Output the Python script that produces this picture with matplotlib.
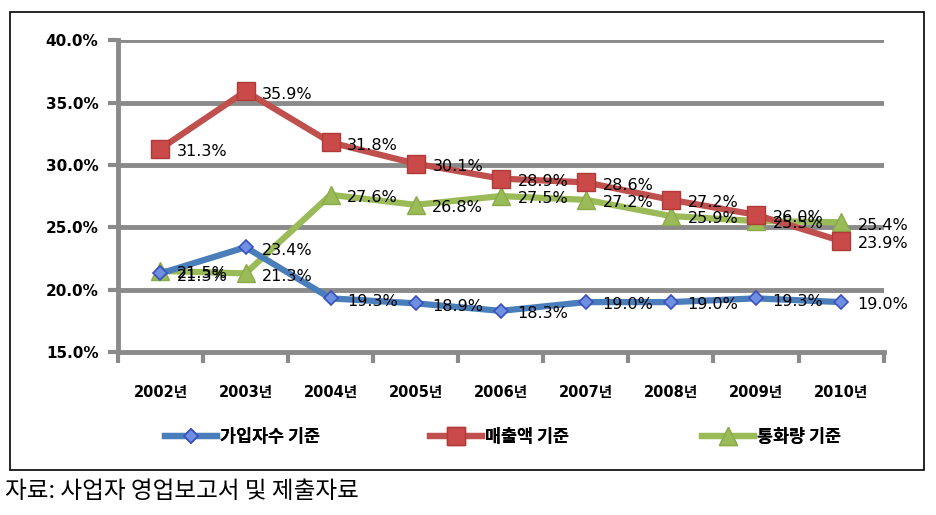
import matplotlib.pyplot as plt
from matplotlib.patches import Rectangle

plt.rcParams['font.family'] = ['DejaVu Sans', 'Noto Sans CJK KR']

years = ['2002년', '2003년', '2004년', '2005년', '2006년', '2007년', '2008년', '2009년', '2010년']
subs = [21.3, 23.4, 19.3, 18.9, 18.3, 19.0, 19.0, 19.3, 19.0]      # 가입자수 기준
sales = [31.3, 35.9, 31.8, 30.1, 28.9, 28.6, 27.2, 26.0, 23.9]     # 매출액 기준
traffic = [21.5, 21.3, 27.6, 26.8, 27.5, 27.2, 25.9, 25.5, 25.4]   # 통화량 기준
yticks = [15, 20, 25, 30, 35, 40]

fig = plt.figure(figsize=(9.36, 5.15), dpi=100)
ax = fig.add_axes([0.126, 0.3165, 0.818, 0.6055])

x = list(range(len(years)))
grey = '#8a8a8a'

l1, = ax.plot(x, subs, color='#4a7ebb', lw=4.5, marker='D', ms=7.5, mfc='#6f8fe0',
              mec='#3a4fc0', mew=1.2, label='가입자수 기준', zorder=5)
l2, = ax.plot(x, sales, color='#c0504d', lw=4.5, marker='s', ms=13, mfc='#c94a48',
              mec='#b03a38', label='매출액 기준', zorder=4)
l3, = ax.plot(x, traffic, color='#9bbb59', lw=4.5, marker='^', ms=13, mfc='#9bbb59',
              mec='#8aab48', label='통화량 기준', zorder=3)

for series in (subs, sales, traffic):
    for xi, v in zip(x, series):
        ax.annotate(f'{v:.1f}%', (xi, v), xytext=(12, -2), textcoords='offset points',
                    ha='left', va='center', fontsize=11.5, color='black', zorder=6)

ax.set_xlim(-0.5, len(years) - 0.5)
ax.set_ylim(15, 40)
ax.set_yticks(yticks)
ax.set_yticklabels([f'{t:.1f}%' for t in yticks], fontsize=11, fontweight='bold')
ax.set_xticks(x)
ax.set_xticklabels(years, fontsize=10.5, fontweight='bold')
ax.tick_params(axis='x', length=0, pad=24)
ax.tick_params(axis='y', length=7, width=3, color=grey, pad=7)

# category boundary tick marks below the x axis
ax.set_xticks([i - 0.5 for i in range(len(years) + 1)], minor=True)
ax.tick_params(axis='x', which='minor', length=8, width=3, color=grey)

for t in yticks[1:]:
    ax.axhline(t, color=grey, lw=3.5, zorder=1)

for s in ['top', 'right']:
    ax.spines[s].set_visible(False)
for s in ['left', 'bottom']:
    ax.spines[s].set_color(grey)
    ax.spines[s].set_linewidth(3.5)

# one legend per entry, placed like the original
for line, x0 in zip((l1, l2, l3), (165, 430, 702)):
    leg = fig.legend(handles=[line], loc='center left',
                     bbox_to_anchor=(x0 / 936, 1 - 437 / 515), frameon=False,
                     prop={'family': 'Noto Sans CJK KR', 'weight': 'bold', 'size': 12.5},
                     handlelength=3.0, handletextpad=0.15, borderpad=0, borderaxespad=0)
    fig.add_artist(leg)

fig.patches.append(Rectangle((10 / 936, 1 - 470 / 515), 914 / 936, 458 / 515,
                             transform=fig.transFigure, fill=False, ec='black', lw=1.2))

fig.text(5 / 936, 1 - 491 / 515, '자료: 사업자 영업보고서 및 제출자료', fontsize=17,
         family='Noto Sans CJK KR', fontweight='light', va='center', ha='left')

fig.savefig('out.png', dpi=100)
